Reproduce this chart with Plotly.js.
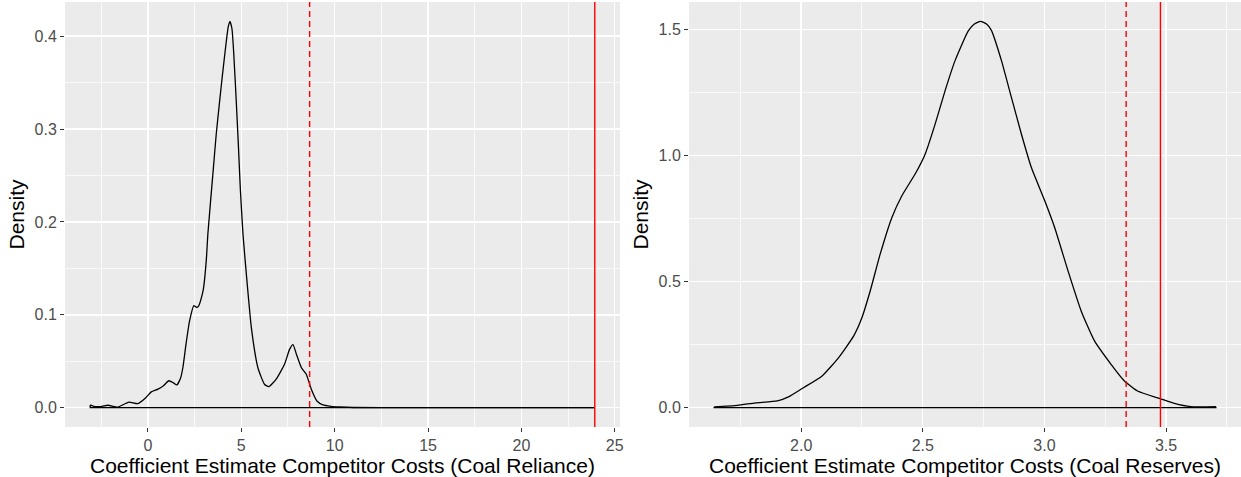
<!DOCTYPE html>
<html>
<head>
<meta charset="utf-8">
<script src="https://cdn.plot.ly/plotly-3.0.1.min.js"></script>
<style>html,body{margin:0;padding:0;background:#fff;}#chart{width:1241px;height:477px;}</style>
</head>
<body>
<div id="chart"></div>
<script>
// ---- Data ----
const relianceX = [-3.09, -2.9, -2.6, -2.14, -1.6, -1.02, -0.54, -0.1, 0.18, 0.54, 0.85, 1.12, 1.35, 1.55, 1.75, 1.87, 2.05, 2.23, 2.46, 2.6, 2.72, 2.91, 2.98, 3.13, 3.21, 3.48, 3.66, 3.84, 4.0, 4.2, 4.3, 4.39, 4.5, 4.6, 4.73, 4.85, 4.95, 5.09, 5.27, 5.54, 5.89, 6.25, 6.48, 6.88, 7.32, 7.59, 7.77, 7.95, 8.22, 8.48, 8.75, 9.05, 9.37, 9.8, 10.27, 11.0, 14, 18, 23.93];
const relianceY = [0.003, 0.0015, 0.0012, 0.0026, 0.0007, 0.006, 0.0043, 0.011, 0.017, 0.020, 0.024, 0.029, 0.027, 0.0245, 0.032, 0.043, 0.070, 0.0935, 0.110, 0.108, 0.1097, 0.122, 0.129, 0.160, 0.187, 0.252, 0.295, 0.330, 0.360, 0.395, 0.410, 0.416, 0.408, 0.380, 0.330, 0.280, 0.235, 0.187, 0.144, 0.086, 0.043, 0.025, 0.0227, 0.031, 0.047, 0.063, 0.068, 0.0576, 0.043, 0.036, 0.0198, 0.0072, 0.003, 0.0015, 0.0008, 0.0002, 0, 0, 0];
const relianceObserved = 23.93;   // solid red line
const relianceCritical = 8.66;    // dashed red line

const reservesX = [1.642, 1.738, 1.813, 1.902, 1.95, 2.004, 2.086, 2.154, 2.216, 2.25, 2.284, 2.325, 2.373, 2.414, 2.469, 2.51, 2.551, 2.592, 2.633, 2.687, 2.712, 2.737, 2.762, 2.782, 2.823, 2.864, 2.905, 2.946, 3.001, 3.042, 3.097, 3.151, 3.206, 3.274, 3.329, 3.383, 3.475, 3.534, 3.602, 3.705];
const reservesY = [0.003, 0.0095, 0.019, 0.027, 0.044, 0.076, 0.126, 0.199, 0.285, 0.358, 0.464, 0.61, 0.755, 0.841, 0.928, 1.007, 1.126, 1.259, 1.378, 1.495, 1.522, 1.533, 1.522, 1.497, 1.378, 1.232, 1.087, 0.954, 0.822, 0.715, 0.543, 0.384, 0.265, 0.172, 0.106, 0.066, 0.036, 0.017, 0.004, 0.004];
const reservesObserved = 3.477;
const reservesCritical = 3.336;

const xTitleLeft = "Coefficient Estimate Competitor Costs (Coal Reliance)";
const xTitleRight = "Coefficient Estimate Competitor Costs (Coal Reserves)";
const yTitle = "Density";

// ---- helpers ----
function baseline(xs, ys) {
  // geom_density outline closes along y = 0 between the data extremes
  const n = xs.length - 1;
  return {x: [xs[0], xs[0], xs[n], xs[n]], y: [ys[0], 0, 0, ys[n]]};
}
function expand(vals, f) {
  const lo = Math.min(...vals), hi = Math.max(...vals);
  const d = (hi - lo) * f;
  return [lo - d, hi + d];
}

const LB = baseline(relianceX, relianceY);
const RB = baseline(reservesX, reservesY);
const curveLine = {color: '#000', width: 1.3, shape: 'spline', smoothing: 0.5};
const baseLine = {color: '#000', width: 1.3};

const traces = [
  {x: relianceX, y: relianceY, xaxis: 'x', yaxis: 'y', type: 'scatter', mode: 'lines', line: curveLine, hoverinfo: 'skip', showlegend: false},
  {x: LB.x, y: LB.y, xaxis: 'x', yaxis: 'y', type: 'scatter', mode: 'lines', line: baseLine, hoverinfo: 'skip', showlegend: false},
  {x: reservesX, y: reservesY, xaxis: 'x2', yaxis: 'y2', type: 'scatter', mode: 'lines', line: curveLine, hoverinfo: 'skip', showlegend: false},
  {x: RB.x, y: RB.y, xaxis: 'x2', yaxis: 'y2', type: 'scatter', mode: 'lines', line: baseLine, hoverinfo: 'skip', showlegend: false}
];

const fontFam = "'Liberation Sans', Arial, Helvetica, sans-serif";
const tickFont = {family: fontFam, size: 16, color: '#4D4D4D'};
const titleFont = {family: fontFam, size: 21, color: '#000'};

function axisCommon() {
  return {
    showgrid: true, gridcolor: '#FFFFFF', gridwidth: 1.4,
    zeroline: false, showline: false,
    ticks: 'outside', ticklen: 4, tickwidth: 1, tickcolor: '#333333',
    tickfont: tickFont, automargin: false, fixedrange: true
  };
}

const domTop = 1 - 2 / 477, domBottom = 1 - 427 / 477;

const layout = {
  width: 1241, height: 477,
  margin: {l: 0, r: 0, t: 0, b: 0},
  paper_bgcolor: '#FFFFFF', plot_bgcolor: '#EBEBEB',
  showlegend: false,
  xaxis: Object.assign(axisCommon(), {
    domain: [65 / 1241, 620 / 1241], anchor: 'y',
    range: expand(relianceX, 0.05), tickvals: [0, 5, 10, 15, 20, 25], ticktext: ['0', '5', '10', '15', '20', '25'],
    minor: {tickvals: [-2.5, 2.5, 7.5, 12.5, 17.5, 22.5], showgrid: true, gridcolor: '#FFFFFF', gridwidth: 0.7, ticks: ''},
    title: {text: xTitleLeft, font: titleFont, standoff: 0}
  }),
  yaxis: Object.assign(axisCommon(), {
    domain: [domBottom, domTop], anchor: 'x',
    range: expand(relianceY.concat([0]), 0.05), tickvals: [0, 0.1, 0.2, 0.3, 0.4], ticktext: ['0.0', '0.1', '0.2', '0.3', '0.4'],
    minor: {tickvals: [0.05, 0.15, 0.25, 0.35], showgrid: true, gridcolor: '#FFFFFF', gridwidth: 0.7, ticks: ''},
    title: {text: yTitle, font: titleFont, standoff: 4}
  }),
  xaxis2: Object.assign(axisCommon(), {
    domain: [689 / 1241, 1], anchor: 'y2',
    range: expand(reservesX, 0.05), tickvals: [2.0, 2.5, 3.0, 3.5], ticktext: ['2.0', '2.5', '3.0', '3.5'],
    minor: {tickvals: [1.75, 2.25, 2.75, 3.25, 3.75], showgrid: true, gridcolor: '#FFFFFF', gridwidth: 0.7, ticks: ''},
    title: {text: xTitleRight, font: titleFont, standoff: 0}
  }),
  yaxis2: Object.assign(axisCommon(), {
    domain: [domBottom, domTop], anchor: 'x2',
    range: expand(reservesY.concat([0]), 0.05), tickvals: [0, 0.5, 1.0, 1.5], ticktext: ['0.0', '0.5', '1.0', '1.5'],
    minor: {tickvals: [0.25, 0.75, 1.25], showgrid: true, gridcolor: '#FFFFFF', gridwidth: 0.7, ticks: ''},
    title: {text: yTitle, font: titleFont, standoff: 4}
  }),
  shapes: [
    {type: 'line', xref: 'x', yref: 'y domain', x0: relianceCritical, x1: relianceCritical, y0: 0, y1: 1,
     line: {color: '#FF0000', width: 1.4, dash: '6px,4px'}},
    {type: 'line', xref: 'x', yref: 'y domain', x0: relianceObserved, x1: relianceObserved, y0: 0, y1: 1,
     line: {color: '#FF0000', width: 1.4}},
    {type: 'line', xref: 'x2', yref: 'y2 domain', x0: reservesCritical, x1: reservesCritical, y0: 0, y1: 1,
     line: {color: '#FF0000', width: 1.4, dash: '6px,4px'}},
    {type: 'line', xref: 'x2', yref: 'y2 domain', x0: reservesObserved, x1: reservesObserved, y0: 0, y1: 1,
     line: {color: '#FF0000', width: 1.4}}
  ]
};

Plotly.newPlot('chart', traces, layout, {displayModeBar: false, staticPlot: true});
</script>
</body>
</html>
